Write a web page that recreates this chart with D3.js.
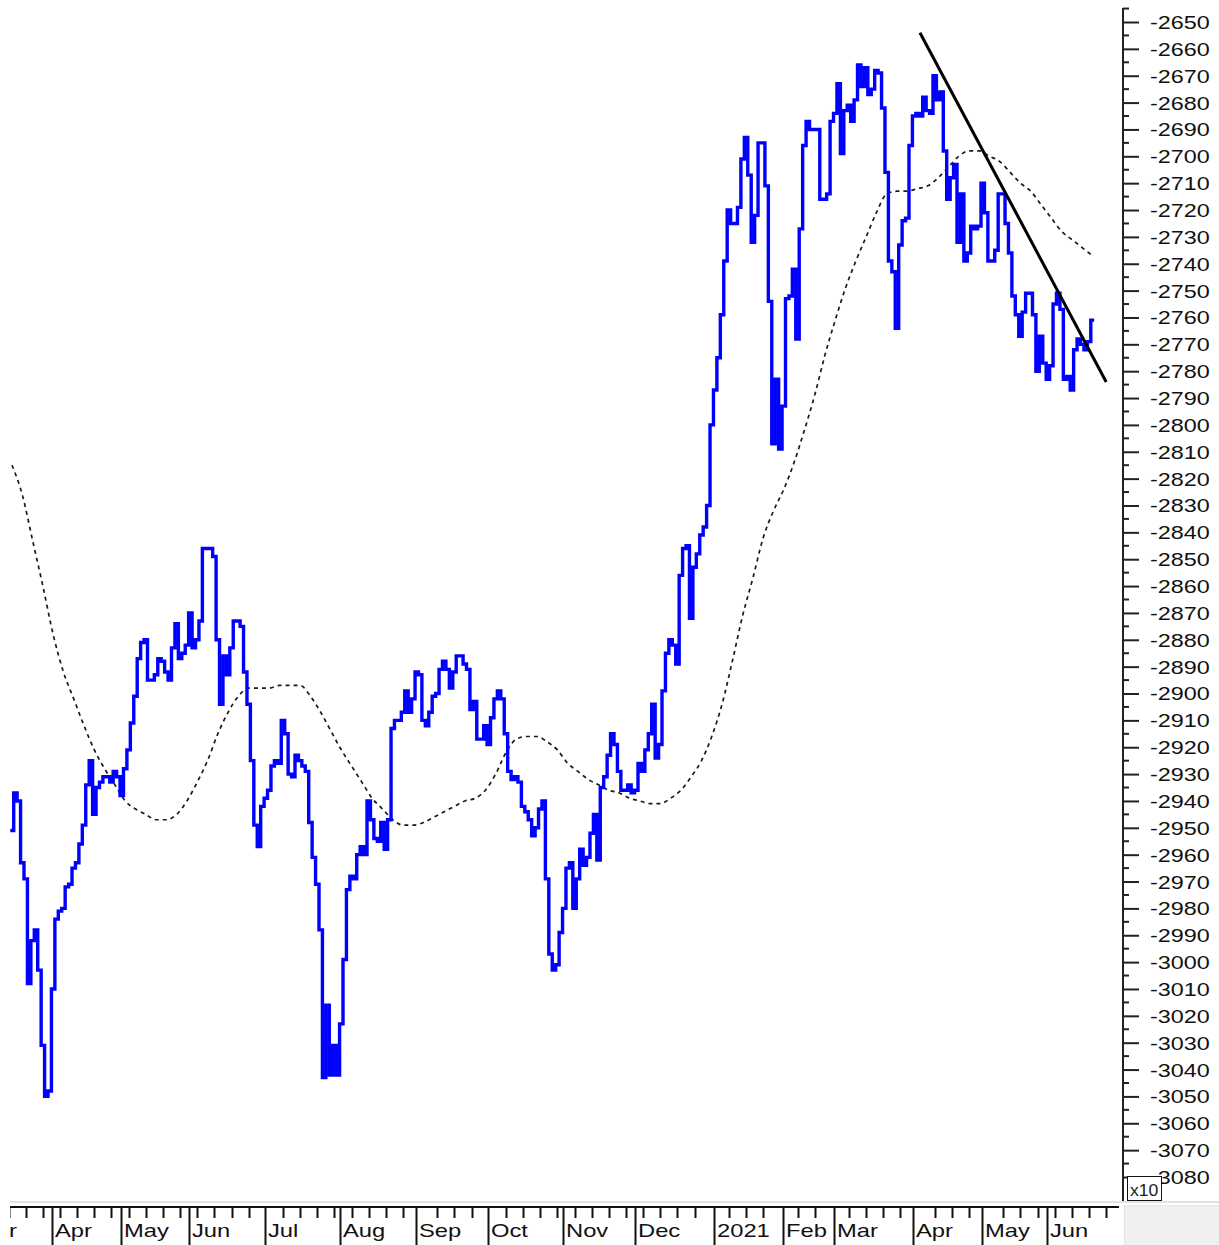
<!DOCTYPE html>
<html>
<head>
<meta charset="utf-8">
<script src="https://cdn.jsdelivr.net/npm/d3@7"></script>
<style>
  html, body { margin: 0; padding: 0; background: #fff; }
  svg { display: block; font-family: "Liberation Sans", Arial, sans-serif; }
</style>
</head>
<body>
<svg id="chart" width="1219" height="1245"></svg>
<script>
// daily closes (one value per session)
const closeValues = [
  -2951,-2937,-2940,-2963,-2969,-3008,-2992,-2988,-3003,-3031,
  -3050,-3048,-3010,-2984,-2981,-2980,-2972,-2971,-2965,-2963,
  -2956,-2949,-2934,-2925,-2945,-2935,-2933,-2931,-2931,-2933,
  -2929,-2931,-2938,-2928,-2921,-2911,-2901,-2887,-2881,-2880,
  -2895,-2895,-2893,-2887,-2888,-2892,-2895,-2883,-2874,-2887,
  -2885,-2882,-2870,-2883,-2880,-2873,-2846,-2846,-2846,-2849,
  -2880,-2904,-2886,-2893,-2883,-2873,-2873,-2875,-2892,-2904,
  -2925,-2949,-2957,-2942,-2939,-2936,-2927,-2925,-2926,-2910,
  -2915,-2930,-2931,-2923,-2925,-2927,-2929,-2948,-2961,-2971,
  -2988,-3043,-3016,-3042,-3031,-3042,-3023,-2999,-2973,-2968,
  -2969,-2960,-2957,-2960,-2940,-2947,-2954,-2955,-2948,-2958,
  -2947,-2913,-2910,-2910,-2907,-2899,-2907,-2902,-2892,-2893,
  -2910,-2912,-2907,-2901,-2900,-2891,-2888,-2891,-2898,-2892,
  -2886,-2886,-2889,-2891,-2906,-2903,-2917,-2917,-2912,-2919,
  -2909,-2902,-2899,-2902,-2915,-2929,-2932,-2931,-2933,-2942,
  -2944,-2947,-2953,-2950,-2943,-2940,-2969,-2997,-3003,-3001,
  -2989,-2980,-2965,-2963,-2980,-2969,-2958,-2964,-2961,-2952,
  -2945,-2962,-2935,-2931,-2923,-2915,-2919,-2929,-2936,-2936,
  -2934,-2937,-2936,-2926,-2929,-2921,-2915,-2904,-2924,-2919,
  -2899,-2885,-2880,-2882,-2889,-2856,-2846,-2845,-2872,-2853,
  -2848,-2841,-2838,-2830,-2800,-2787,-2775,-2759,-2739,-2720,
  -2725,-2725,-2719,-2701,-2693,-2707,-2732,-2722,-2695,-2695,
  -2711,-2754,-2807,-2783,-2809,-2793,-2753,-2752,-2742,-2768,
  -2727,-2696,-2687,-2690,-2690,-2690,-2716,-2716,-2714,-2687,
  -2684,-2673,-2699,-2683,-2681,-2687,-2679,-2666,-2674,-2667,
  -2677,-2675,-2668,-2669,-2682,-2706,-2739,-2743,-2764,-2733,
  -2724,-2723,-2696,-2685,-2684,-2685,-2678,-2683,-2684,-2670,
  -2679,-2676,-2698,-2716,-2708,-2703,-2732,-2714,-2739,-2736,
  -2726,-2727,-2726,-2710,-2721,-2739,-2739,-2735,-2714,-2714,
  -2725,-2736,-2752,-2759,-2767,-2758,-2751,-2751,-2759,-2780,
  -2767,-2777,-2783,-2778,-2755,-2751,-2757,-2783,-2782,-2787,
  -2772,-2768,-2770,-2772,-2769,-2761
];

// moving average, read every 3rd session
const avgStep = 3;
const avgValues = [
  -2815,-2826,-2843,-2860,-2878,-2892,-2902,-2912,-2921,-2928,
  -2934,-2940,-2943,-2945,-2947,-2947,-2945,-2940,-2933,-2925,
  -2915,-2907,-2901,-2898,-2898,-2898,-2897,-2897,-2897,-2901,
  -2907,-2914,-2921,-2927,-2933,-2939,-2943,-2947,-2949,-2949,
  -2948,-2946,-2944,-2942,-2940,-2939,-2936,-2930,-2922,-2917,
  -2916,-2916,-2918,-2921,-2926,-2929,-2932,-2934,-2936,-2937,
  -2939,-2940,-2941,-2941,-2939,-2936,-2931,-2925,-2916,-2904,
  -2888,-2871,-2857,-2842,-2832,-2824,-2814,-2802,-2789,-2774,
  -2761,-2749,-2739,-2730,-2721,-2714,-2713,-2713,-2712,-2711,
  -2708,-2704,-2700,-2698,-2698,-2700,-2702,-2706,-2710,-2713,
  -2718,-2723,-2728,-2731,-2734,-2737
];

// hand drawn trend line (session index, value)
const trendPoints = [
  { i: 264.7, v: -2654 },
  { i: 319.0, v: -2784 },
];

// month labels and the session where each month starts
const monthLabels = ["Mar", "Apr", "May", "Jun", "Jul", "Aug", "Sep", "Oct", "Nov", "Dec",
  "2021", "Feb", "Mar", "Apr", "May", "Jun"];
const monthStarts = [-11, 12, 32, 52, 74, 96, 118, 139, 161, 182, 205, 225, 240, 263, 283, 302];

const yMin = -3080;
const yMax = -2650;

const width = 1219;
const height = 1245;
const axisX = 1123;
const xAxisY = 1207;

const svg = d3.select("#chart");

const x = d3.scaleLinear().domain([0, closeValues.length - 1]).range([12, 1092.5]);
const y = d3.scaleLinear().domain([yMin, yMax]).range([1177, 22]);

// moving average (dotted)
const avgLine = d3
  .line()
  .x((d, k) => x(k * avgStep))
  .y((d) => y(d))
  .curve(d3.curveMonotoneX);

svg
  .append("path")
  .datum(avgValues)
  .attr("d", avgLine)
  .attr("fill", "none")
  .attr("stroke", "#1a1a1a")
  .attr("stroke-width", 1.7)
  .attr("stroke-dasharray", "4,4");

// closes, drawn as steps like the original
const closeLine = d3
  .line()
  .x((d, i) => x(i))
  .y((d) => y(d))
  .curve(d3.curveStep);

svg
  .append("path")
  .datum(closeValues)
  .attr("d", closeLine)
  .attr("fill", "none")
  .attr("stroke", "#0000ff")
  .attr("stroke-width", 3.4)
  .attr("stroke-linejoin", "miter")
  .attr("stroke-linecap", "square");

// trend line
svg
  .append("line")
  .attr("x1", x(trendPoints[0].i))
  .attr("y1", y(trendPoints[0].v))
  .attr("x2", x(trendPoints[1].i))
  .attr("y2", y(trendPoints[1].v))
  .attr("stroke", "#000")
  .attr("stroke-width", 3);

// right axis
const yAxis = d3
  .axisRight(y)
  .tickValues(d3.range(yMin, yMax + 1, 10))
  .tickSize(16)
  .tickSizeOuter(0)
  .tickFormat((d) => String(d));

const yAxisG = svg
  .append("g")
  .attr("transform", `translate(${axisX},0)`)
  .call(yAxis);

yAxisG.select(".domain").remove();
yAxisG.selectAll(".tick line").attr("stroke", "#222").attr("stroke-width", 2);
yAxisG
  .selectAll(".tick text")
  .attr("x", 0)
  .attr("dy", "0.36em")
  .attr("fill", "#111")
  .style("font-size", "18px")
  .style("font-family", '"Liberation Sans", Arial, sans-serif')
  .attr("transform", "translate(27,0) scale(1.3,1)");

yAxisG
  .selectAll(".minor")
  .data(d3.range(yMin + 5, yMax + 6, 10))
  .join("line")
  .attr("class", "minor")
  .attr("x1", 0)
  .attr("x2", 6)
  .attr("y1", (d) => y(d))
  .attr("y2", (d) => y(d))
  .attr("stroke", "#222")
  .attr("stroke-width", 2);

svg
  .append("line")
  .attr("x1", axisX)
  .attr("x2", axisX)
  .attr("y1", 8)
  .attr("y2", 1201)
  .attr("stroke", "#222")
  .attr("stroke-width", 2);

// x10 box
svg
  .append("rect")
  .attr("x", 1127.5)
  .attr("y", 1176.5)
  .attr("width", 34)
  .attr("height", 24)
  .attr("fill", "#fff")
  .attr("stroke", "#111")
  .attr("stroke-width", 1);

svg
  .append("text")
  .attr("transform", "translate(1130,1196) scale(1.1,1)")
  .attr("fill", "#222")
  .style("font-size", "16px")
  .text("x10");

// bottom strip
svg
  .append("line")
  .attr("x1", 10)
  .attr("x2", width)
  .attr("y1", 1202)
  .attr("y2", 1202)
  .attr("stroke", "#e2e2e2")
  .attr("stroke-width", 2);

svg
  .append("rect")
  .attr("x", axisX + 1.5)
  .attr("y", 1205.5)
  .attr("width", width - axisX - 1)
  .attr("height", 40)
  .attr("fill", "#f0f0f0")
  .attr("stroke", "#e4e4e4")
  .attr("stroke-width", 1);

const defs = svg.append("defs");
defs
  .append("clipPath")
  .attr("id", "x-clip")
  .append("rect")
  .attr("x", 10)
  .attr("y", 1195)
  .attr("width", 1110)
  .attr("height", 50);

const xAxisG = svg.append("g").attr("clip-path", "url(#x-clip)");

xAxisG
  .append("line")
  .attr("x1", 10)
  .attr("x2", 1119)
  .attr("y1", xAxisY)
  .attr("y2", xAxisY)
  .attr("stroke", "#111")
  .attr("stroke-width", 2);

// weekly ticks
const weekTicks = d3
  .range(-1, 322, 5)
  .filter((t) => monthStarts.every((m) => Math.abs(m - t) > 1.5));

xAxisG
  .selectAll(".week")
  .data(weekTicks)
  .join("line")
  .attr("class", "week")
  .attr("x1", (d) => Math.round(x(d)) + 0.5)
  .attr("x2", (d) => Math.round(x(d)) + 0.5)
  .attr("y1", xAxisY)
  .attr("y2", xAxisY + 11)
  .attr("stroke", "#111")
  .attr("stroke-width", 2);

// month lines and labels
const months = monthLabels.map((label, k) => ({ label, start: monthStarts[k] }));

xAxisG
  .selectAll(".month")
  .data(months)
  .join("line")
  .attr("class", "month")
  .attr("x1", (d) => Math.round(x(d.start)) - 0.5)
  .attr("x2", (d) => Math.round(x(d.start)) - 0.5)
  .attr("y1", xAxisY)
  .attr("y2", height)
  .attr("stroke", "#111")
  .attr("stroke-width", 2);

xAxisG
  .selectAll(".month-label")
  .data(months)
  .join("text")
  .attr("class", "month-label")
  .attr("transform", (d) => `translate(${Math.round(x(d.start)) + 2},1237) scale(1.25,1)`)
  .attr("fill", "#111")
  .style("font-size", "19px")
  .text((d) => d.label);
</script>
</body>
</html>
